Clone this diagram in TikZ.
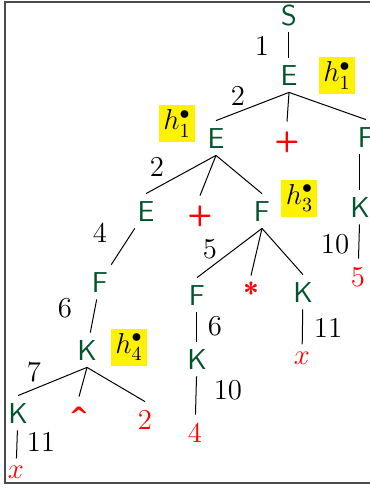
\documentclass[tikz,border=0pt]{standalone}
\usepackage{fontspec}
\newfontfamily\caretfont{DejaVu Sans}
\usetikzlibrary{calc}
\definecolor{ntgreen}{RGB}{0,85,45}
\definecolor{hlyellow}{RGB}{255,242,0}
\begin{document}
\begin{tikzpicture}[x=0.5pt,y=-0.5pt,
  nt/.style={text=ntgreen, font=\sffamily\Large, text height=10pt, text depth=0pt, inner xsep=2pt, inner ysep=3.5pt},
  tm/.style={text=red, font=\sffamily\bfseries\Large, text height=10pt, text depth=0pt, inner xsep=2pt, inner ysep=3.5pt},
  td/.style={text=red, font=\Large, text height=10pt, text depth=0pt, inner xsep=2pt, inner ysep=3.5pt},
  tx/.style={text=red, font=\Large, text height=6.2pt, text depth=0pt, inner sep=3.5pt},
  lbl/.style={font=\Large, inner sep=0pt},
  hb/.style={fill=hlyellow, minimum width=18pt, minimum height=18.5pt, inner sep=0pt, font=\Large},
  edge/.style={line width=0.5pt}]
\useasboundingbox (0,0) rectangle (370,489);
\clip (0,0) rectangle (370,489);
\draw[line width=1pt, black!70] (5,2) rectangle (420,483);
% nonterminals
\node[nt] (S)  at (289,15)  {S};
\node[nt] (E1) at (289,75)  {E};
\node[nt] (E2) at (216,138) {E};
\node[tm] (P1) at (287,139) {+};
\node[nt] (Fr) at (366,137) {F};
\node[nt] (E3) at (146,211) {E};
\node[tm] (P2) at (200,213) {+};
\node[nt] (F2) at (262,211) {F};
\node[nt] (Kr) at (360,207) {K};
\node[td] (T5) at (358,276) {5};
\node[nt] (F3) at (100,282) {F};
\node[nt] (F4) at (197,295) {F};
\node[tm] (ST) at (251,293) {*};
\node[nt] (K2) at (303,292) {K};
\node[nt] (K3) at (87,350)  {K};
\node[tx] (X2) at (302,358) {$x$};
\node[nt] (K4) at (197,359) {K};
\node[nt] (K5) at (18,413)  {K};
\node[tm, font=\caretfont\bfseries\large] (CA) at (79,414)  {\char"5E};
\node[td] (T2) at (145,419) {2};
\node[td] (T4) at (195,432) {4};
\node[tx] (X1) at (16,472)  {$x$};
% highlight boxes
\node[hb] (H1) at (337,75.5)  {$h^{\bullet}_{1}$};
\node[hb] (H2) at (177,123.5) {$h^{\bullet}_{1}$};
\node[hb] (H3) at (299.5,198) {$h^{\bullet}_{3}$};
\node[hb] (H4) at (129,347)   {$h^{\bullet}_{4}$};
% labels
\node[lbl] (L1)  at (262,46)  {1};
\node[lbl] (L2)  at (238,96)  {2};
\node[lbl] (L3)  at (157,167) {2};
\node[lbl] (L4)  at (100,233) {4};
\node[lbl] (L5)  at (210,249) {5};
\node[lbl] (L6)  at (335,244) {10};
\node[lbl] (L7)  at (65,308)  {6};
\node[lbl] (L8)  at (215,326) {6};
\node[lbl] (L9)  at (328,328) {11};
\node[lbl] (L10) at (34,372)  {7};
\node[lbl] (L11) at (228,390) {10};
\node[lbl] (L12) at (41,442)  {11};
% edges
\draw[edge] (S) -- (E1);
\draw[edge] (E1.south) -- (E2.north);
\draw[edge] (E1.south) -- (P1.north);
\draw[edge] (E1.south) -- (Fr.north);
\draw[edge] (E2.south) -- (E3.north);
\draw[edge] (E2.south) -- (P2.north);
\draw[edge] (E2.south) -- (F2.north);
\draw[edge] (Kr.north |- Fr.south) -- (Kr.north);
\draw[edge] (Kr) -- (T5);
\draw[edge] (E3) -- (F3);
\draw[edge] (F2.south) -- (F4.north);
\draw[edge] (F2.south) -- (ST.north);
\draw[edge] (F2.south) -- (K2.north);
\draw[edge] (F3) -- (K3);
\draw[edge] (F4) -- (K4);
\draw[edge] (K2) -- (X2);
\draw[edge] (K3.south) -- (K5.north);
\draw[edge] (K3.south) -- (CA.north);
\draw[edge] (K3.south) -- (T2.north);
\draw[edge] (K4) -- (T4);
\draw[edge] (K5) -- (X1);
\end{tikzpicture}
\end{document}
